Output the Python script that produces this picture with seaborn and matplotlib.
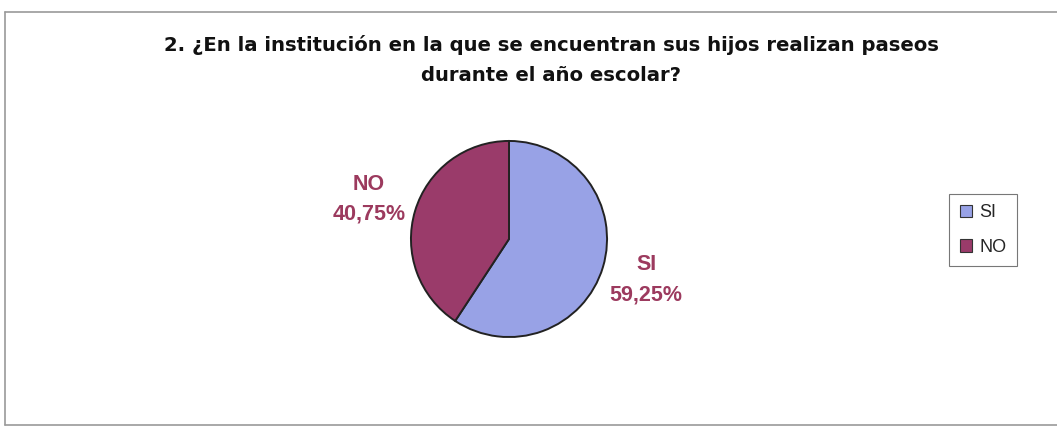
import matplotlib
matplotlib.use("Agg")
import matplotlib.pyplot as plt
from matplotlib.lines import Line2D
from matplotlib.patches import Patch
import seaborn as sns

categories = ["SI", "NO"]
values = [59.25, 40.75]
labels_pct = ["59,25%", "40,75%"]
title = "2. ¿En la institución en la que se encuentran sus hijos realizan paseos\ndurante el año escolar?"

sns.set_theme(style="white")
plt.rcParams["font.family"] = ["Liberation Sans", "DejaVu Sans"]

colors = ["#98A2E6", "#9A3B6A"]
label_color = "#9C3A5E"

W, H = 1057, 428
fig = plt.figure(figsize=(W / 100, H / 100), dpi=100)
fig.patch.set_facecolor("white")

# pie axes: centre (509, 239) px, radius 100 px
cx, cy, r = 509, 239, 100
ax = fig.add_axes([(cx - r) / W, 1 - (cy + r) / H, 2 * r / W, 2 * r / H])
wedges, _ = ax.pie(values, colors=colors, startangle=90, counterclock=False,
                   radius=1.0, wedgeprops=dict(edgecolor="#222222", linewidth=1.4))
ax.set_xlim(-1.02, 1.02)
ax.set_ylim(-1.02, 1.02)
ax.set_aspect("equal")
ax.axis("off")

# data labels
label_pos = {"SI": (1.40, -0.415), "NO": (-1.43, 0.405)}
for cat, pct in zip(categories, labels_pct):
    x, y = label_pos[cat]
    ax.text(x, y, f"{cat}\n{pct}", ha="center", va="center", color=label_color,
            fontsize=15.5, fontweight="bold", linespacing=1.55, clip_on=False)

# title
fig.text(551 / W, 1 - 60 / H, title, ha="center", va="center", fontsize=14.1,
         fontweight="bold", family="DejaVu Sans", color="#111111", linespacing=1.7)

# legend
handles = [Patch(facecolor=c, edgecolor="#333333", linewidth=0.8) for c in colors]
leg = fig.legend(handles, categories, loc="center", bbox_to_anchor=(983 / W, 1 - 230 / H),
                 frameon=True, fontsize=13, handlelength=0.7, handleheight=0.7,
                 handletextpad=0.4, labelspacing=0.95, borderpad=0.6, fancybox=False)
leg.get_frame().set_edgecolor("#555555")
leg.get_frame().set_linewidth(0.8)

# outer chart frame
frame_kw = dict(color="#9a9a9a", linewidth=1.2, transform=fig.transFigure)
fig.add_artist(Line2D([5 / W, 1.0], [1 - 12 / H, 1 - 12 / H], **frame_kw))
fig.add_artist(Line2D([5 / W, 5 / W], [1 - 12 / H, 1 - 425 / H], **frame_kw))
fig.add_artist(Line2D([5 / W, 1.0], [1 - 425 / H, 1 - 425 / H], **frame_kw))

fig.savefig("out.png", dpi=100, facecolor="white")
